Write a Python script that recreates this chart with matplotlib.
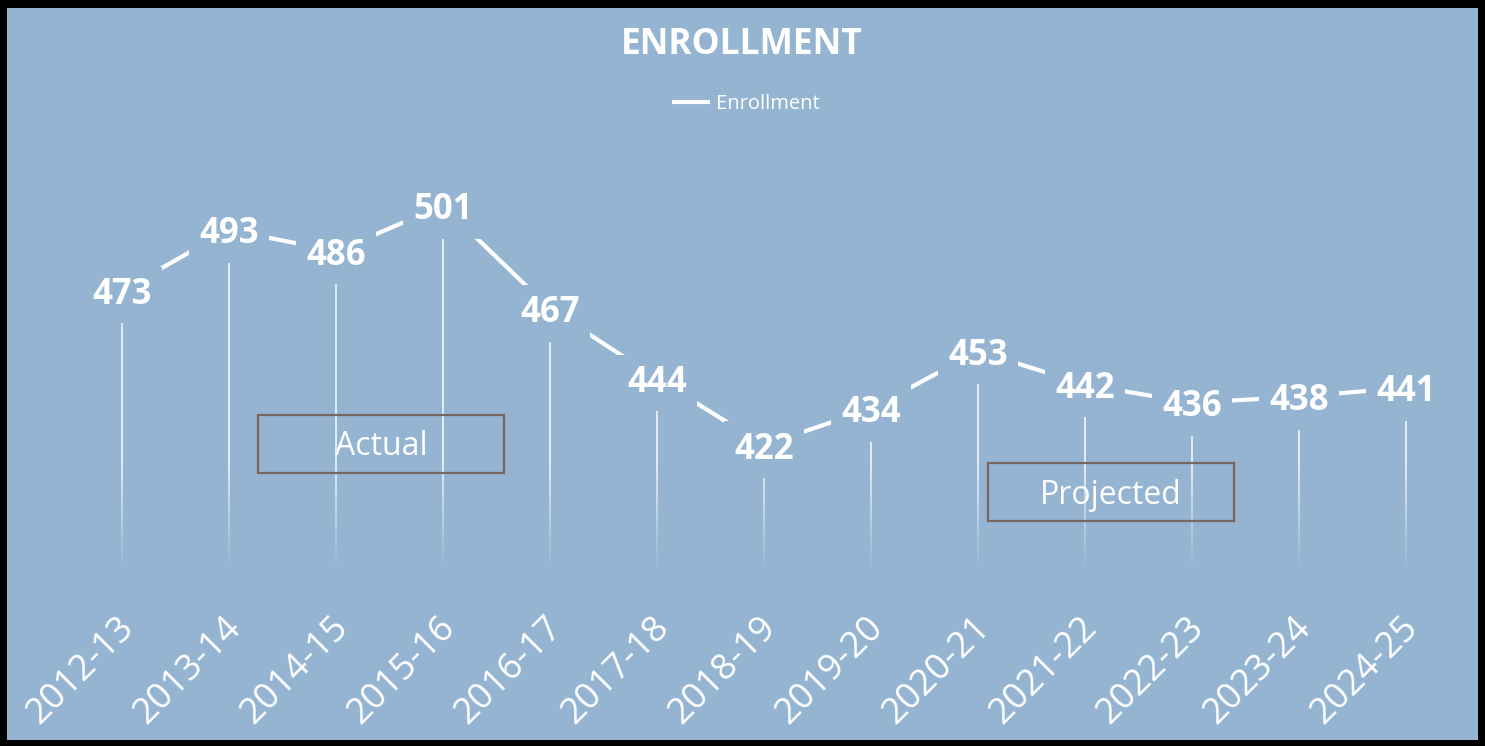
import numpy as np
import matplotlib
matplotlib.use("Agg")
import matplotlib.pyplot as plt
from matplotlib.collections import LineCollection
from matplotlib.patches import Rectangle
from matplotlib.transforms import ScaledTranslation

plt.rcParams['font.family'] = ['Open Sans', 'DejaVu Sans']

# dados
anos = ["2012-13", "2013-14", "2014-15", "2015-16", "2016-17", "2017-18", "2018-19",
        "2019-20", "2020-21", "2021-22", "2022-23", "2023-24", "2024-25"]
matriculas = [473, 493, 486, 501, 467, 444, 422, 434, 453, 442, 436, 438, 441]

fundo = "#94B4D2"
borda_caixa = "#786661"
W, H = 1485, 746

fig = plt.figure(figsize=(W / 100, H / 100), dpi=100)
fig.patch.set_facecolor("black")
fig.add_artist(Rectangle((7 / W, 6 / H), (1478 - 7) / W, (739 - 7) / H,
                         transform=fig.transFigure, facecolor=fundo, edgecolor="none", zorder=0))

ax = fig.add_axes([68.5 / W, 0.23244, 1391 / W, 0.56917])
ax.set_facecolor("none")
ax.set_xlim(-0.5, len(anos) - 0.5)
y_min, y_max = 380, 520
ax.set_ylim(y_min, y_max)
for s in ax.spines.values():
    s.set_visible(False)
ax.set_yticks([])

x = np.arange(len(anos))

# linhas de queda com degradê
segs, cores = [], []
for xi, v in zip(x, matriculas):
    ys = np.linspace(y_min, v, 80)
    for a, b in zip(ys[:-1], ys[1:]):
        segs.append([(xi, a), (xi, b)])
        alpha = 0.8 * np.clip((a - y_min) / 35.0, 0, 1)
        cores.append((1, 1, 1, alpha))
ax.add_collection(LineCollection(segs, colors=cores, linewidths=1.3, zorder=1))

ax.plot(x, matriculas, color="white", lw=3, solid_capstyle="butt", zorder=2, label="Enrollment")

for xi, v in zip(x, matriculas):
    ax.text(xi, v, str(v), ha="center", va="center_baseline", fontsize=25, fontweight="bold",
            color="white", zorder=3,
            bbox=dict(boxstyle="square,pad=0.3", facecolor=fundo, edgecolor="none"))

ax.set_xticks(x)
ax.set_xticklabels(anos, rotation=45, ha="right", va="top", rotation_mode="anchor",
                   fontsize=26, color="white")
ax.tick_params(axis="x", length=0, pad=27)
desloc = ScaledTranslation(-6 / 100, 0, fig.dpi_scale_trans)
for lbl in ax.get_xticklabels():
    lbl.set_transform(lbl.get_transform() + desloc)

# titulo e legenda
fig.text(741.5 / W, 1 - 45 / H, "ENROLLMENT", ha="center", va="center", fontsize=25.5,
         fontweight="bold", color="white")
leg = fig.legend(loc="center", bbox_to_anchor=(746 / W, 1 - 104 / H), frameon=False,
                 fontsize=14.5, handlelength=1.85, handletextpad=0.3, labelcolor="white")

# caixas Actual / Projected
def caixa(x0, y0, x1, y1, texto):
    fig.add_artist(Rectangle((x0 / W, 1 - y1 / H), (x1 - x0) / W, (y1 - y0) / H,
                             transform=fig.transFigure, facecolor="none",
                             edgecolor=borda_caixa, lw=1.6, zorder=4))
    fig.text((x0 + x1) / 2 / W, 1 - ((y0 + y1) / 2 + 3) / H, texto, ha="center", va="center",
             fontsize=23, color="white", zorder=5)

caixa(258, 415, 504, 473, "Actual")
caixa(988, 463, 1234, 521, "Projected")

fig.savefig("out.png", dpi=100, facecolor=fig.get_facecolor())
